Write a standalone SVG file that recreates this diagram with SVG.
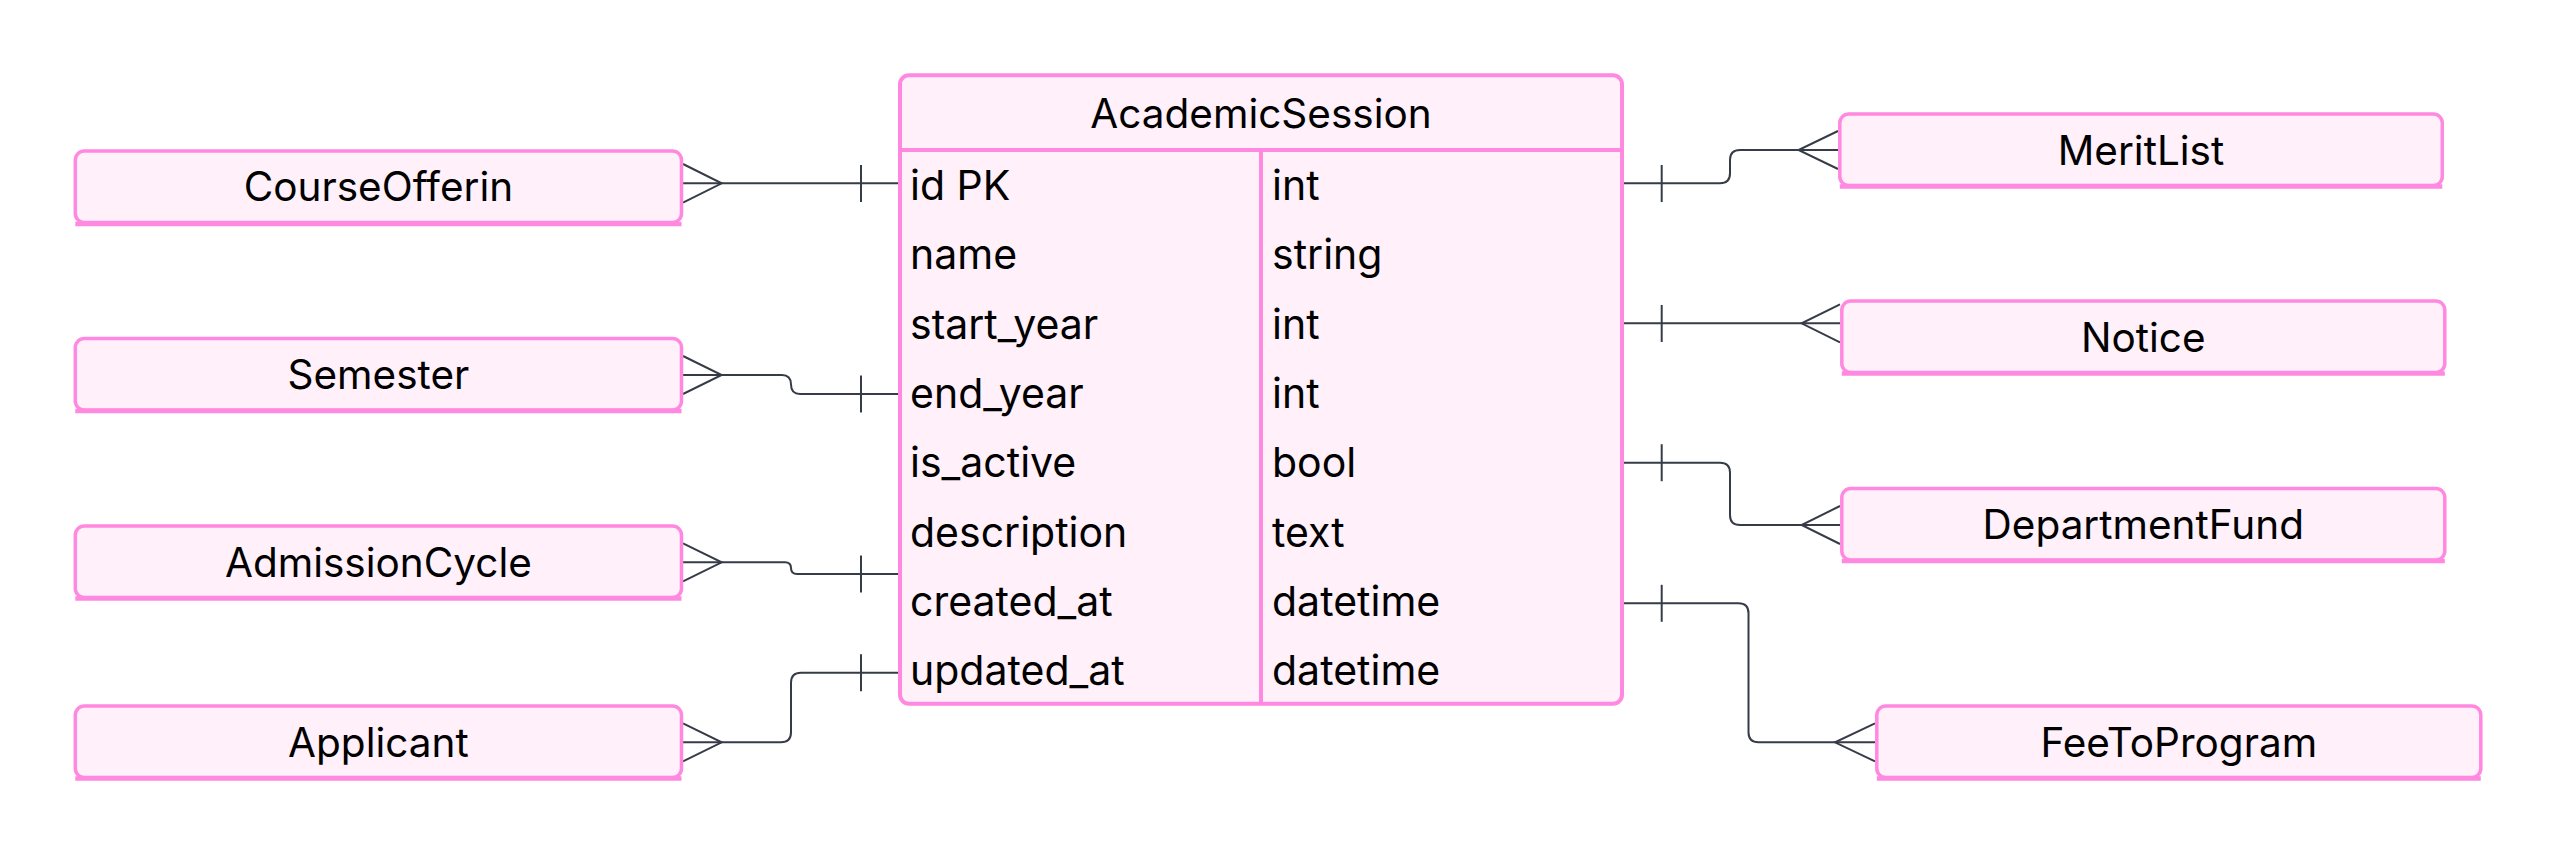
<svg xmlns="http://www.w3.org/2000/svg" width="2558" height="855" viewBox="0 0 2558 855">
<style>
.box{fill:#fff0fa;stroke:#ff88e0;stroke-width:3.5}
.band{stroke:#ff88e0;stroke-width:4.5}
.ent{fill:#fff0fa;stroke:#ff88e0;stroke-width:4}
.div{stroke:#ff88e0;stroke-width:4}
.lbl{font-family:Inter,"Noto Sans",sans-serif;font-size:40.5px;fill:#000;text-anchor:middle}
.attr{font-family:Inter,"Noto Sans",sans-serif;font-size:41px;fill:#000}
.edge{fill:none;stroke:#363c47;stroke-width:2}
</style>
<rect width="2558" height="855" fill="#ffffff"/>
<g id="connectors">
  <path class="edge" d="M683 183.3 H898"/>
  <path class="edge" d="M683 164 L721.7 183.3 L683 202.6"/>
  <path class="edge" d="M861 165 V202"/>
  <path class="edge" d="M683 375 H782 Q791 375 791 384.5 Q791 394 800 394 H898"/>
  <path class="edge" d="M683 356 L721.7 375 L683 394"/>
  <path class="edge" d="M861 375.5 V412.5"/>
  <path class="edge" d="M683 562.3 H785 Q791 562.3 791 568 Q791 574 797 574 H898"/>
  <path class="edge" d="M683 543.3 L721.7 562.3 L683 581.3"/>
  <path class="edge" d="M861 555.5 V592.5"/>
  <path class="edge" d="M683 742.3 H781 Q791 742.3 791 732.3 V682.7 Q791 672.7 801 672.7 H898"/>
  <path class="edge" d="M683 723.3 L721.7 742.3 L683 761.3"/>
  <path class="edge" d="M861 654.2 V691.2"/>
  <path class="edge" d="M1624 183.3 H1720 Q1730 183.3 1730 173.3 V160 Q1730 150 1740 150 H1838"/>
  <path class="edge" d="M1838 131 L1798.5 150 L1838 169"/>
  <path class="edge" d="M1661.7 165 V202"/>
  <path class="edge" d="M1624 323.3 H1840"/>
  <path class="edge" d="M1840 304.3 L1801.6 323.3 L1840 342.3"/>
  <path class="edge" d="M1661.7 305 V342"/>
  <path class="edge" d="M1624 462.7 H1720 Q1730 462.7 1730 472.7 V515 Q1730 525 1740 525 H1840"/>
  <path class="edge" d="M1840 506 L1801.6 525 L1840 544"/>
  <path class="edge" d="M1661.7 444.2 V481.2"/>
  <path class="edge" d="M1624 603.3 H1738.5 Q1748.5 603.3 1748.5 613.3 V732.3 Q1748.5 742.3 1758.5 742.3 H1875"/>
  <path class="edge" d="M1875 723.3 L1835 742.3 L1875 761.3"/>
  <path class="edge" d="M1661.7 584.8 V621.8"/>
</g>
<g id="AcademicSession">
  <rect class="ent" x="900" y="75.3" width="722" height="628.5" rx="9"/>
  <line class="div" x1="900" y1="150" x2="1622" y2="150"/>
  <line class="div" x1="1261" y1="150" x2="1261" y2="703.8"/>
  <text class="lbl" x="1261" y="127.7" font-size="41">AcademicSession</text>
  <text class="attr" x="910" y="200">id PK</text>
  <text class="attr" x="1272" y="200">int</text>
  <text class="attr" x="910" y="269.3">name</text>
  <text class="attr" x="1272" y="269.3">string</text>
  <text class="attr" x="910" y="338.6">start_year</text>
  <text class="attr" x="1272" y="338.6">int</text>
  <text class="attr" x="910" y="407.9">end_year</text>
  <text class="attr" x="1272" y="407.9">int</text>
  <text class="attr" x="910" y="477.2">is_active</text>
  <text class="attr" x="1272" y="477.2">bool</text>
  <text class="attr" x="910" y="546.5">description</text>
  <text class="attr" x="1272" y="546.5">text</text>
  <text class="attr" x="910" y="615.8">created_at</text>
  <text class="attr" x="1272" y="615.8">datetime</text>
  <text class="attr" x="910" y="685.1">updated_at</text>
  <text class="attr" x="1272" y="685.1">datetime</text>
</g>
<g id="CourseOfferin">
  <rect class="box" x="75.3" y="151" width="606.2" height="71.5" rx="9"/>
  <line class="band" x1="75.3" y1="224" x2="681.5" y2="224"/>
  <text class="lbl" x="378.4" y="201.3">CourseOfferin</text>
</g>
<g id="Semester">
  <rect class="box" x="75.3" y="338.5" width="606.2" height="71.5" rx="9"/>
  <line class="band" x1="75.3" y1="411" x2="681.5" y2="411"/>
  <text class="lbl" x="378.4" y="388.8">Semester</text>
</g>
<g id="AdmissionCycle">
  <rect class="box" x="75.3" y="526" width="606.2" height="71.5" rx="9"/>
  <line class="band" x1="75.3" y1="598.5" x2="681.5" y2="598.5"/>
  <text class="lbl" x="378.4" y="576.5">AdmissionCycle</text>
</g>
<g id="Applicant">
  <rect class="box" x="75.3" y="706" width="606.2" height="71.5" rx="9"/>
  <line class="band" x1="75.3" y1="778.5" x2="681.5" y2="778.5"/>
  <text class="lbl" x="378.4" y="756.5">Applicant</text>
</g>
<g id="MeritList">
  <rect class="box" x="1839.8" y="114" width="602.5" height="71.5" rx="9"/>
  <line class="band" x1="1839.8" y1="186.5" x2="2442.3" y2="186.5"/>
  <text class="lbl" x="2141" y="164.5">MeritList</text>
</g>
<g id="Notice">
  <rect class="box" x="1841.8" y="301" width="603" height="71.5" rx="9"/>
  <line class="band" x1="1841.8" y1="373.5" x2="2444.8" y2="373.5"/>
  <text class="lbl" x="2143.3" y="351.5">Notice</text>
</g>
<g id="DepartmentFund">
  <rect class="box" x="1841.8" y="488.5" width="603" height="71.5" rx="9"/>
  <line class="band" x1="1841.8" y1="561" x2="2444.8" y2="561"/>
  <text class="lbl" x="2143.3" y="539">DepartmentFund</text>
</g>
<g id="FeeToProgram">
  <rect class="box" x="1876.8" y="706" width="604" height="71.5" rx="9"/>
  <line class="band" x1="1876.8" y1="778.5" x2="2480.8" y2="778.5"/>
  <text class="lbl" x="2178.8" y="756.5">FeeToProgram</text>
</g>
</svg>
